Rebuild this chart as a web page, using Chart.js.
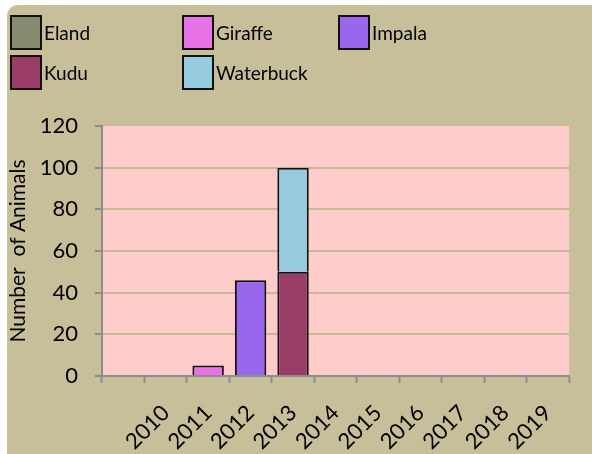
<!DOCTYPE html>
<html>
<head>
<meta charset="utf-8">
<script src="https://cdn.jsdelivr.net/npm/chart.js@4.4.0/dist/chart.umd.min.js"></script>
<style>
  html, body { margin: 0; padding: 0; background: #fff; }
  #card {
    position: absolute; left: 7px; top: 5px; width: 600px; height: 460px;
    background: #c6bf99; border-top-left-radius: 11px;
  }
  #wrap { position: absolute; left: 0; top: 0; width: 592px; height: 454px; }
  #legend { position: absolute; left: 0; top: 0; font-family: Lato, sans-serif; font-size: 19px; color: #000; }
  .item { position: absolute; display: flex; align-items: center; white-space: nowrap; }
  .box { width: 28px; height: 31px; border: 2px solid #111; margin-right: 2px; box-sizing: content-box; }
</style>
</head>
<body>
<div id="card"></div>
<div id="wrap"><canvas id="c" width="592" height="454"></canvas></div>
<div id="legend"></div>
<script>
// categorias (la primera queda vacía, como en el original)
const years = ['', '2010', '2011', '2012', '2013', '2014', '2015', '2016', '2017', '2018', '2019'];
const yTicks = [0, 20, 40, 60, 80, 100, 120];

const eland     = [null, null, null, null, null, null, null, null, null, null, null];
const giraffe   = [null, null, 5, null, null, null, null, null, null, null, null];
const impala    = [null, null, null, 46, null, null, null, null, null, null, null];
const kudu      = [null, null, null, null, 50, null, null, null, null, null, null];
const waterbuck = [null, null, null, null, 50, null, null, null, null, null, null];

const series = [
  { label: 'Eland', data: eland, color: '#888a70' },
  { label: 'Giraffe', data: giraffe, color: '#e872e8' },
  { label: 'Impala', data: impala, color: '#9966ee' },
  { label: 'Kudu', data: kudu, color: '#993d66' },
  { label: 'Waterbuck', data: waterbuck, color: '#96cbdd' },
];

const font = { family: 'Lato, sans-serif', size: 22 };
const axisGrey = '#8c8c8c';

const plotBg = {
  id: 'plotBg',
  beforeDraw(chart) {
    const { ctx, chartArea: a } = chart;
    ctx.save();
    ctx.fillStyle = '#ffcccc';
    ctx.fillRect(a.left, a.top, a.right - a.left, a.bottom - a.top);
    ctx.restore();
  },
};

const chart = new Chart(document.getElementById('c'), {
  type: 'bar',
  data: {
    labels: years,
    datasets: series.map((s) => ({
      label: s.label,
      data: s.data,
      backgroundColor: s.color,
      borderColor: '#111',
      borderWidth: 2,
      barPercentage: 0.74,
      categoryPercentage: 1,
    })),
  },
  options: {
    responsive: false,
    animation: false,
    layout: { padding: { left: 0, top: 126, right: 23, bottom: 0 } },
    plugins: { legend: { display: false }, tooltip: { enabled: false } },
    scales: {
      x: {
        stacked: true,
        afterFit: (s) => { s.height = 78; },
        border: { color: axisGrey, width: 2 },
        grid: { drawOnChartArea: false, drawTicks: true, tickLength: 7, tickColor: axisGrey, tickWidth: 2, offset: true },
        ticks: { color: '#000', font, minRotation: 45, maxRotation: 45, padding: 17, autoSkip: false },
      },
      y: {
        stacked: true,
        min: 0, max: 120,
        afterFit: (s) => { s.width = 102; },
        afterBuildTicks: (s) => { s.ticks = yTicks.map((v) => ({ value: v })); },
        border: { color: axisGrey, width: 2 },
        grid: {
          color: (c) => (c.tick && (c.tick.value === 0 || c.tick.value === 120)) ? 'rgba(0,0,0,0)' : '#c8b994',
          lineWidth: 2,
          tickLength: 7, tickColor: axisGrey, tickWidth: 2,
        },
        ticks: { color: '#000', font, padding: 17 },
        title: { display: true, text: 'Number  of Animals', color: '#000', font: { ...font, size: 21 }, padding: { top: 6, bottom: 0 } },
      },
    },
  },
  plugins: [plotBg],
});

// leyenda en tres columnas
const legendPos = [[10, 15], [182, 15], [338, 15], [10, 55], [182, 55]];
const legendEl = document.getElementById('legend');
chart.data.datasets.forEach((d, i) => {
  const it = document.createElement('div');
  it.className = 'item';
  it.style.left = legendPos[i][0] + 'px';
  it.style.top = legendPos[i][1] + 'px';
  it.innerHTML = `<span class="box" style="background:${d.backgroundColor}"></span><span>${d.label}</span>`;
  legendEl.appendChild(it);
});
</script>
</body>
</html>
